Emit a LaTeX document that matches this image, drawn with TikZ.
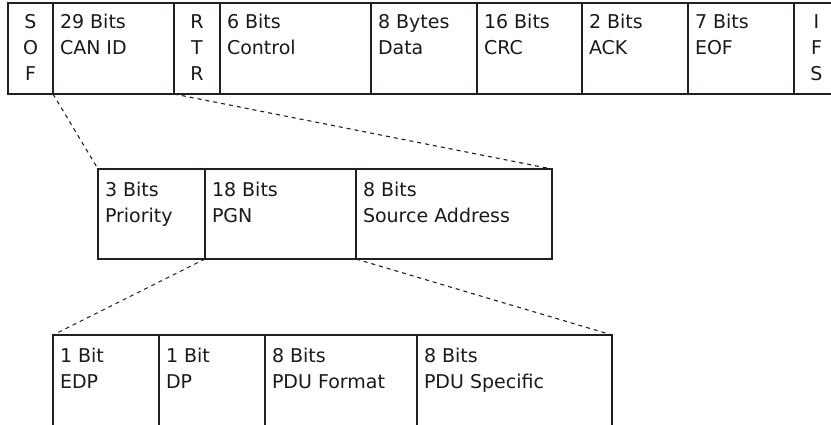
\documentclass[tikz,border=0pt]{standalone}
\usepackage{fontspec}
\setmainfont{DejaVu Sans}
\usetikzlibrary{calc}
\definecolor{boxc}{HTML}{231F20}
\definecolor{textc}{HTML}{1A1A1A}
\tikzset{
  cell/.style={draw=boxc, line width=1.8pt, outer sep=0pt, inner sep=0pt, anchor=north west, minimum width=#1},
  rowA/.style={minimum height=91pt},
  rowB/.style={minimum height=90pt},
  rowC/.style={minimum height=105pt},
  txt/.style={font=\fontsize{19}{26}\selectfont, inner sep=0pt, outer sep=0pt, anchor=north west, align=left, text=textc},
  vtxt/.style={font=\fontsize{19}{26}\selectfont, inner sep=0pt, outer sep=0pt, anchor=north, align=center, text=textc},
  zoomline/.style={draw=boxc, dash pattern=on 4pt off 4pt, line width=1.1pt}
}
\begin{document}
\begin{tikzpicture}[x=1pt,y=-1pt]
\useasboundingbox[fill=white] (0,0) rectangle (831,425);
% top row: CAN frame
\node[cell=45pt,rowA]  (sof)  at (8,3)   {};
\node[cell=121pt,rowA] (canid) at (53,3) {};
\node[cell=46pt,rowA]  (rtr)  at (174,3) {};
\node[cell=151pt,rowA] (ctrl) at (220,3) {};
\node[cell=106pt,rowA] (data) at (371,3) {};
\node[cell=105pt,rowA] (crc)  at (477,3) {};
\node[cell=106pt,rowA] (ack)  at (582,3) {};
\node[cell=106pt,rowA] (eof)  at (688,3) {};
\node[cell=45pt,rowA]  (ifs)  at (794,3) {};
\node[vtxt] (tsof) at ($(sof.north)+(0,10)$) {\rule{0pt}{16pt}S\\O\\F};
\node[txt] (tcanid) at ($(canid.north west)+(7,10)$) {\rule{0pt}{16pt}29 Bits\\CAN ID};
\node[vtxt] (trtr) at ($(rtr.north)+(0,10)$) {\rule{0pt}{16pt}R\\T\\R};
\node[txt] (tctrl) at ($(ctrl.north west)+(7,10)$) {\rule{0pt}{16pt}6 Bits\\Control};
\node[txt] (tdata) at ($(data.north west)+(7,10)$) {\rule{0pt}{16pt}8 Bytes\\Data};
\node[txt] (tcrc) at ($(crc.north west)+(7,10)$) {\rule{0pt}{16pt}16 Bits\\CRC};
\node[txt] (tack) at ($(ack.north west)+(7,10)$) {\rule{0pt}{16pt}2 Bits\\ACK};
\node[txt] (teof) at ($(eof.north west)+(7,10)$) {\rule{0pt}{16pt}7 Bits\\EOF};
\node[vtxt] (tifs) at ($(ifs.north)+(0,10)$) {\rule{0pt}{16pt}I\\F\\S};
% middle row: CAN ID
\node[cell=107pt,rowB] (prio) at (98,169)  {};
\node[cell=151pt,rowB] (pgn)  at (205,169) {};
\node[cell=196pt,rowB] (src)  at (356,169) {};
\node[txt] (tprio) at ($(prio.north west)+(7,12)$) {\rule{0pt}{16pt}3 Bits\\Priority};
\node[txt] (tpgn) at ($(pgn.north west)+(7,12)$) {\rule{0pt}{16pt}18 Bits\\PGN};
\node[txt] (tsrc) at ($(src.north west)+(7,12)$) {\rule{0pt}{16pt}8 Bits\\Source Address};
% bottom row: PGN
\node[cell=106pt,rowC] (edp)  at (53,335)  {};
\node[cell=106pt,rowC] (dp)   at (159,335) {};
\node[cell=152pt,rowC] (pduf) at (265,335) {};
\node[cell=195pt,rowC] (pdus) at (417,335) {};
\node[txt] (tedp) at ($(edp.north west)+(7,11)$) {\rule{0pt}{16pt}1 Bit\\EDP};
\node[txt] (tdp) at ($(dp.north west)+(7,11)$) {\rule{0pt}{16pt}1 Bit\\DP};
\node[txt] (tpduf) at ($(pduf.north west)+(7,11)$) {\rule{0pt}{16pt}8 Bits\\PDU Format};
\node[txt] (tpdus) at ($(pdus.north west)+(7,11)$) {\rule{0pt}{16pt}8 Bits\\PDU Specific};
% zoom connectors
\draw[zoomline] (canid.south west) -- (prio.north west);
\draw[zoomline] (canid.south east) -- (src.north east);
\draw[zoomline] (pgn.south west) -- (edp.north west);
\draw[zoomline] (pgn.south east) -- (pdus.north east);
\end{tikzpicture}
\end{document}
